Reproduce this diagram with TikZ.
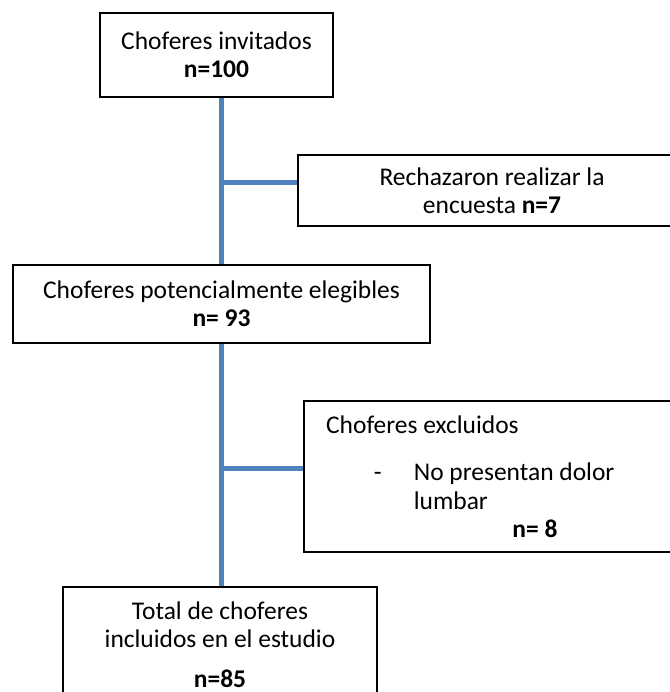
\documentclass[tikz,border=0pt]{standalone}
\usepackage{fontspec}
\setmainfont{Carlito}
\definecolor{flowblue}{RGB}{79, 129, 189}
\usetikzlibrary{positioning}

\begin{document}
\begin{tikzpicture}[x=0.02cm, y=-0.02cm,
  box/.style={draw, line width=1.3pt, inner sep=0pt, align=center, font=\fontsize{14.5}{16}\selectfont},
  link/.style={draw=flowblue, line width=2.8pt}]
  \useasboundingbox (0, 0) rectangle (669, 692);

  % Invited
  \node[box, minimum width=4.66cm, minimum height=1.68cm] (invited) at (216.5, 55) {Choferes invitados\\\textbf{n=100}};

  % Refused
  \node[box, minimum width=7.76cm, minimum height=1.42cm] (refused) at (492, 190.5) {Rechazaron realizar la\\encuesta \textbf{n=7}};

  % Eligible
  \node[box, minimum width=8.34cm, minimum height=1.56cm] (eligible) at (221.5, 304) {Choferes potencialmente elegibles\\\textbf{n= 93}};

  % Excluded
  \node[box, anchor=north west, align=flush left, text width=6.78cm, inner xsep=0.44cm, minimum height=3.02cm] (excluded) at (303, 400) {Choferes excluidos\\[11pt]
    \makebox[49.9pt][l]{\hspace*{27.2pt}-}No presentan dolor\\
    \hspace*{49.9pt}lumbar\\
    \hspace*{106pt}\textbf{n= 8}};

  % Included
  \node[box, anchor=north, minimum width=6.28cm, minimum height=2.3cm] (included) at (220, 586) {Total de choferes\\incluidos en el estudio\\[7pt]\textbf{n=85}};

  % Trunk lines
  \draw[link] (eligible.north |- invited.south) -- (eligible.north);
  \draw[link] (eligible.south) -- (eligible.south |- included.north);

  % Side branches
  \coordinate (branch1) at ([yshift=4.8pt]refused.west);
  \draw[link] (branch1 -| eligible.north) -- (branch1);
  \coordinate (branch2) at ([yshift=4.8pt]excluded.west);
  \draw[link] (branch2 -| eligible.south) -- (branch2);
\end{tikzpicture}
\end{document}
